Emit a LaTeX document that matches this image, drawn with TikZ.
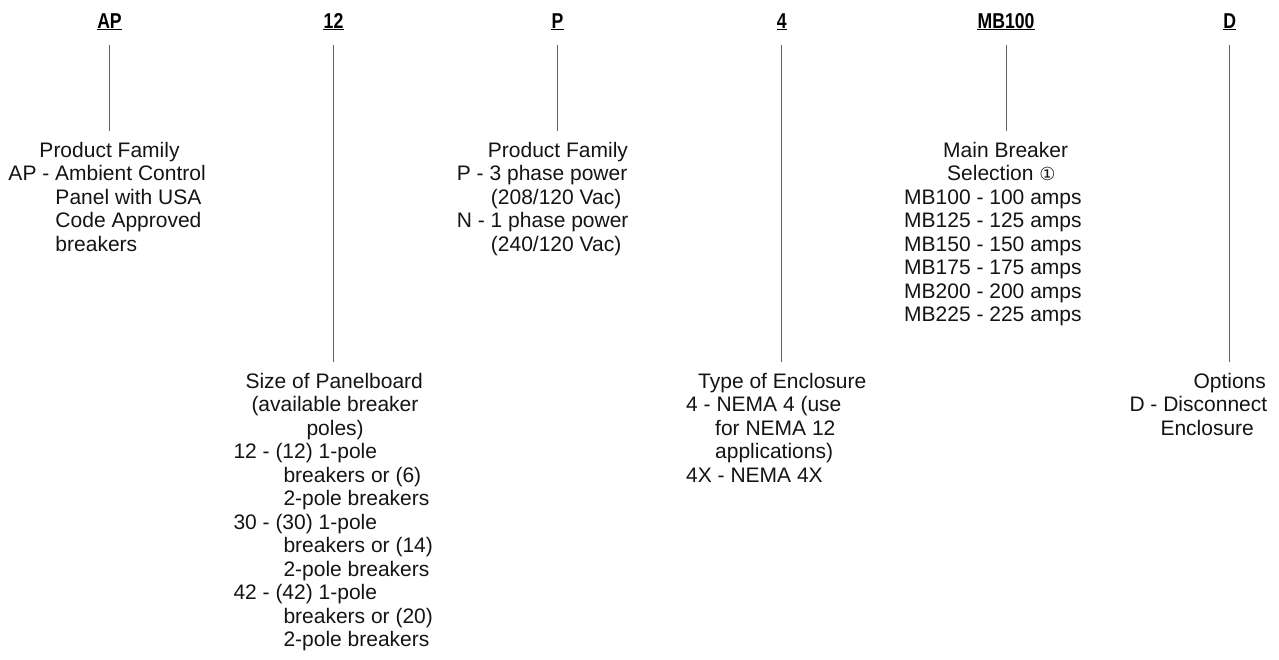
\documentclass[tikz,border=0pt]{standalone}
\usepackage{fontspec}
\setmainfont{Liberation Sans}
\newfontfamily\hdrfont[FakeStretch=0.82]{Liberation Sans}
\newfontfamily\symfont{DejaVu Sans}
\newcommand\firststrut{\rule{0pt}{17pt}}
\begin{document}
\begin{tikzpicture}[x=1pt,y=-1pt,
  hdr/.style={font=\hdrfont\bfseries\fontsize{21.5}{24}\selectfont, inner sep=0pt, anchor=base},
  blk/.style={font=\fontsize{21}{23.5}\selectfont, align=left, inner sep=0pt, anchor=north west, text=black!92},
  conn/.style={draw=black!62, line width=1pt, shorten <=17pt, shorten >=9pt},
  uline/.style={line width=1.2pt}]
\useasboundingbox (0,0) rectangle (1279,659);

% headers
\node[hdr] (hAP) at (109.5,28) {AP};
\node[hdr] (hSZ) at (333.5,28) {12};
\node[hdr] (hPH) at (557.5,28) {P};
\node[hdr] (hEN) at (781.8,28) {4};
\node[hdr] (hMB) at (1006,28) {MB100};
\node[hdr] (hOP) at (1229.7,28) {D};
\foreach \h in {hAP,hSZ,hPH,hEN,hMB,hOP}
  \draw[uline] ([yshift=-1.6pt]\h.base west) -- ([yshift=-1.6pt]\h.base east);

% text blocks
\node[blk] (bAP) at (8.3,140) {\firststrut\hspace*{31pt}Product Family\\
AP - Ambient Control\\
\hspace*{47pt}Panel with USA\\
\hspace*{47pt}Code Approved\\
\hspace*{47pt}breakers};

\node[blk] (bPH) at (456.7,140) {\firststrut\hspace*{31pt}Product Family\\
P - 3 phase power\\
\hspace*{34pt}(208/120 Vac)\\
N - 1 phase power\\
\hspace*{34pt}(240/120 Vac)};

\node[blk] (bMB) at (904,140) {\firststrut\hspace*{39pt}Main Breaker\\
\hspace*{43pt}Selection {\symfont\fontsize{18}{18}\selectfont ①}\\
MB100 - 100 amps\\
MB125 - 125 amps\\
MB150 - 150 amps\\
MB175 - 175 amps\\
MB200 - 200 amps\\
MB225 - 225 amps};

\node[blk] (bSZ) at (233.3,371) {\firststrut\hspace*{12pt}Size of Panelboard\\
\hspace*{18pt}(available breaker\\
\hspace*{73pt}poles)\\
12 - (12) 1-pole\\
\hspace*{50pt}breakers or (6)\\
\hspace*{50pt}2-pole breakers\\
30 - (30) 1-pole\\
\hspace*{50pt}breakers or (14)\\
\hspace*{50pt}2-pole breakers\\
42 - (42) 1-pole\\
\hspace*{50pt}breakers or (20)\\
\hspace*{50pt}2-pole breakers};

\node[blk] (bEN) at (686,371) {\firststrut\hspace*{12pt}Type of Enclosure\\
4 - NEMA 4 (use\\
\hspace*{29pt}for NEMA 12\\
\hspace*{29pt}applications)\\
4X - NEMA 4X};

\node[blk] (bOP) at (1129.3,371) {\firststrut\hspace*{64pt}Options\\
D - Disconnect\\
\hspace*{31pt}Enclosure};

% connectors
\draw[conn] (hAP.base) -- (hAP.base |- bAP.north);
\draw[conn] (hSZ.base) -- (hSZ.base |- bSZ.north);
\draw[conn] (hPH.base) -- (hPH.base |- bPH.north);
\draw[conn] (hEN.base) -- (hEN.base |- bEN.north);
\draw[conn] (hMB.base) -- (hMB.base |- bMB.north);
\draw[conn] (hOP.base) -- (hOP.base |- bOP.north);
\end{tikzpicture}
\end{document}
